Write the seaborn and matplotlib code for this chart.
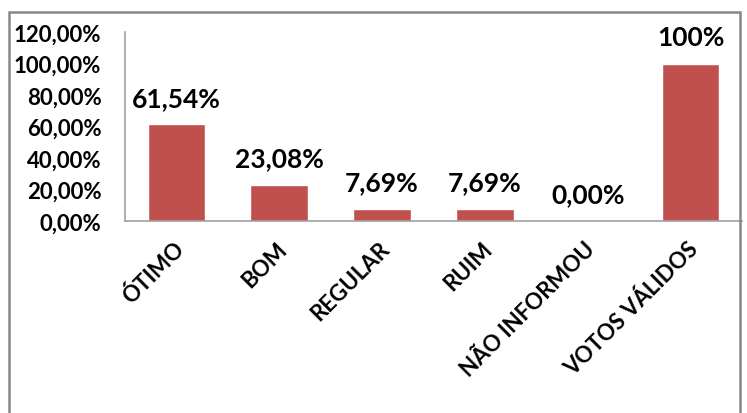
import matplotlib
matplotlib.use('Agg')
import matplotlib.pyplot as plt
import matplotlib.transforms as mtrans
import seaborn as sns
import pandas as pd
from matplotlib.patches import Rectangle

# Dados
categorias = ['ÓTIMO', 'BOM', 'REGULAR', 'RUIM', 'NÃO INFORMOU', 'VOTOS VÁLIDOS']
valores = [61.54, 23.08, 7.69, 7.69, 0.0, 100.0]
rotulos = ['61,54%', '23,08%', '7,69%', '7,69%', '0,00%', '100%']
ticks_y = [0, 20, 40, 60, 80, 100, 120]

sns.set_style('white')
plt.rcParams['font.family'] = ['Lato', 'DejaVu Sans']
plt.rcParams['font.weight'] = 'bold'
plt.rcParams['text.color'] = 'black'
plt.rcParams['xtick.color'] = 'black'
plt.rcParams['ytick.color'] = 'black'

df = pd.DataFrame({'cat': categorias, 'val': valores})

fig = plt.figure(figsize=(7.47, 4.14), dpi=100)
ax = fig.add_axes([125/747, 1 - 222/414, 617/747, 189/414])
sns.barplot(data=df, x='cat', y='val', color='#C0504D', width=0.56,
            saturation=1, ax=ax)

ax.set_ylim(0, 120)
ax.set_yticks(ticks_y)
ax.set_yticklabels([f'{t},00%' for t in ticks_y], fontsize=16, fontweight='bold')
ax.set_xticks(range(len(categorias)))
ax.set_xticklabels(categorias, rotation=45, ha='right', rotation_mode='anchor',
                   fontsize=16, fontweight='bold')
ax.tick_params(axis='y', length=0, pad=17)
ax.tick_params(axis='x', length=0, pad=12)
desloc = mtrans.ScaledTranslation(-3/100, 0, fig.dpi_scale_trans)
for lbl in ax.get_xticklabels():
    lbl.set_transform(lbl.get_transform() + desloc)
ax.set_xlabel('')
ax.set_ylabel('')

for s in ['top', 'right']:
    ax.spines[s].set_visible(False)
for s in ['left', 'bottom']:
    ax.spines[s].set_color('#A0A0A0')
    ax.spines[s].set_linewidth(1.2)

for i, (v, r) in enumerate(zip(valores, rotulos)):
    ax.annotate(r, (i, v), xytext=(0, 19), textcoords='offset points',
                ha='center', va='center', fontsize=19, fontweight='bold')

# moldura do gráfico
fig.patches.append(Rectangle((9/747, -0.05), (740 - 9)/747, 1.05 - 13/414,
                             transform=fig.transFigure, fill=False,
                             edgecolor='#888888', linewidth=1.8))

fig.savefig('out.png', dpi=100)
